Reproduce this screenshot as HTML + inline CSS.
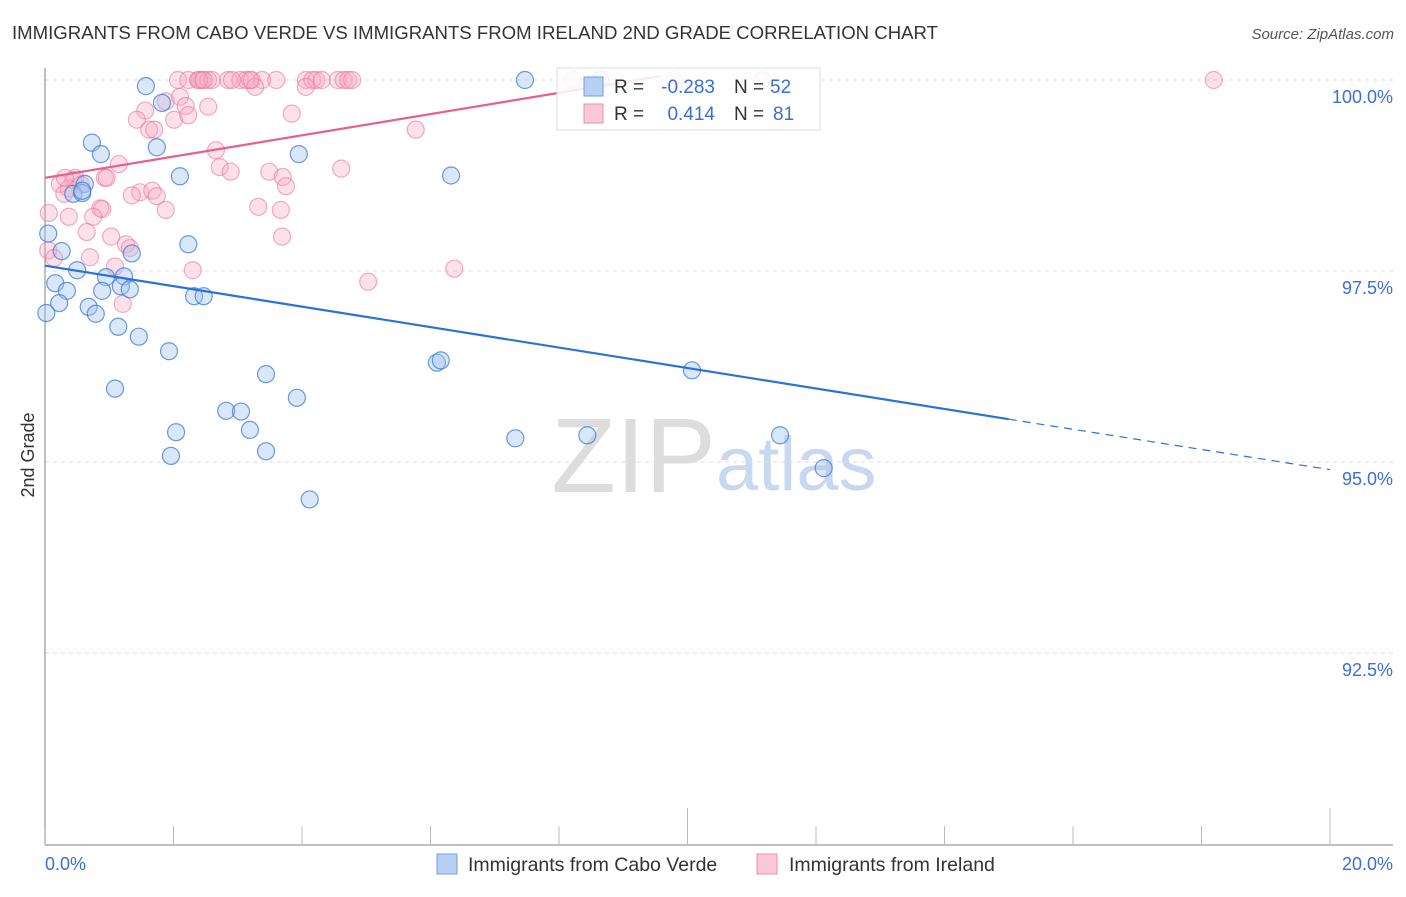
<!DOCTYPE html>
<html><head><meta charset="utf-8"><style>
body{margin:0;background:#fff;font-family:"Liberation Sans",sans-serif}
svg text{font-family:"Liberation Sans",sans-serif}
</style></head><body>
<svg width="1406" height="892" xmlns="http://www.w3.org/2000/svg">
<text x="12" y="39" font-size="18.6" fill="#333">IMMIGRANTS FROM CABO VERDE VS IMMIGRANTS FROM IRELAND 2ND GRADE CORRELATION CHART</text>
<text x="1394" y="39" font-size="15" fill="#555" text-anchor="end" font-style="italic">Source: ZipAtlas.com</text>
<text x="716" y="492" font-size="106" fill="#ddd" text-anchor="end" font-family="Liberation Serif">ZIP</text>
<text x="716" y="490" font-size="76" fill="#c8d8f0">atlas</text>
<g id="grid"></g>
<g id="axes"></g>
<g id="pts"></g>
<g id="lines"></g>
<text x="34" y="455" font-size="18" fill="#333" text-anchor="middle" transform="rotate(-90 34 455)">2nd Grade</text>
<g>
<rect x="557" y="68" width="263" height="62" fill="rgba(255,255,255,0.85)" stroke="#ddd"/>
<rect x="584" y="77" width="19" height="19" fill="#b8d0f4" stroke="#6f9de0"/>
<rect x="584" y="104" width="19" height="19" fill="#fbc8d8" stroke="#e88fab"/>
<text x="614" y="93" font-size="19" fill="#333">R = </text><text x="715" y="93" font-size="19" fill="#3a6fd8" text-anchor="end">-0.283</text>
<text x="734" y="93" font-size="19" fill="#333">N = </text><text x="770" y="93" font-size="19" fill="#3a6fd8">52</text>
<text x="614" y="120" font-size="19" fill="#333">R = </text><text x="715" y="120" font-size="19" fill="#3a6fd8" text-anchor="end">0.414</text>
<text x="734" y="120" font-size="19" fill="#333">N = </text><text x="773" y="120" font-size="19" fill="#3a6fd8">81</text>
</g>
<g>
<rect x="437" y="854" width="20" height="20" fill="#b8d0f4" stroke="#6f9de0"/>
<text x="468" y="871" font-size="19.5" fill="#333">Immigrants from Cabo Verde</text>
<rect x="757" y="854" width="20" height="20" fill="#fbc8d8" stroke="#e88fab"/>
<text x="789" y="871" font-size="19.5" fill="#333">Immigrants from Ireland</text>
</g>
</svg>
<script>
const blueX=[1.57,7.47,8.64,0.73,1.74,0.87,1.82,2.1,3.95,6.32,0.62,0.44,0.58,0.05,0.26,1.35,2.23,0.5,0.95,1.23,0.16,0.34,0.89,1.18,1.32,0.22,0.68,0.79,0.02,2.32,2.47,1.14,1.46,1.93,6.1,6.16,10.07,1.09,3.44,3.92,2.82,3.05,2.04,3.19,7.32,8.44,11.44,1.96,3.44,12.12,4.12,0.58];
const blueY=[99.92,100,100,99.18,99.12,99.03,99.7,98.74,99.03,98.75,98.64,98.51,98.52,97.99,97.76,97.73,97.85,97.51,97.42,97.43,97.34,97.24,97.24,97.3,97.26,97.08,97.03,96.94,96.95,97.17,97.17,96.77,96.64,96.45,96.3,96.33,96.2,95.96,96.15,95.84,95.67,95.66,95.39,95.42,95.31,95.35,95.35,95.08,95.14,94.92,94.51,98.55];
const pinkX=[2.07,2.23,2.38,2.44,2.54,2.6,2.85,3.04,3.13,3.22,3.38,3.6,4.06,4.16,4.22,4.31,4.56,4.65,4.72,4.78,9.79,11.16,18.19,8.22,2.4,2.47,2.91,3.27,3.19,4.06,1.88,2.1,1.56,2.19,2.01,2.23,2.54,1.43,1.62,1.7,3.84,5.77,2.66,1.15,2.72,2.89,3.49,4.61,0.06,0.37,0.05,0.14,0.23,0.47,0.44,0.56,0.93,0.96,0.3,0.37,0.86,0.89,1.48,1.67,1.74,1.35,1.88,3.7,3.75,3.32,3.67,0.75,0.65,1.03,1.26,1.32,0.7,1.09,2.3,3.69,6.37,5.03,1.21,0.31];
const pinkY=[100,100,100,100,100,100,100,100,100,100,100,100,100,100,100,100,100,100,100,100,100,100,100,100,100,100,100,99.91,100,99.91,99.72,99.78,99.6,99.66,99.48,99.54,99.65,99.48,99.35,99.35,99.56,99.35,99.08,98.9,98.86,98.8,98.8,98.84,98.26,98.21,97.77,97.67,98.64,98.72,98.69,98.63,98.72,98.72,98.51,98.58,98.32,98.31,98.53,98.55,98.48,98.49,98.3,98.73,98.61,98.34,98.3,98.21,98.01,97.95,97.85,97.8,97.68,97.56,97.51,97.95,97.53,97.36,97.07,98.72];
const yTicks=[100,97.5,95,92.5];
const yTickLabels=["100.0%","97.5%","95.0%","92.5%"];
const xTicks=[0,2,4,6,8,10,12,14,16,18,20];
const blueTrend=[[0,97.57],[15,95.56],[20,94.9]];
const pinkTrend=[[0,98.72],[9.57,100.05]];
const NS="http://www.w3.org/2000/svg";
const X=v=>45+v*64.25, Y=v=>80+(100-v)*76.4;
function mk(t,a,p){const e=document.createElementNS(NS,t);for(const k in a)e.setAttribute(k,a[k]);document.getElementById(p).appendChild(e);return e;}
yTicks.forEach((t,i)=>{
 const l=mk('line',{x1:45,x2:1393,y1:Y(t),y2:Y(t),stroke:'#ddd','stroke-dasharray':'4,4'},'grid');
 
 
 const tx=mk('text',{x:1393,y:Y(t)+23,'font-size':18,fill:'#3a6fd8','text-anchor':'end'},'grid');
 tx.textContent=yTickLabels[i];
 
 
});
let ax=mk('line',{x1:45,x2:1393,y1:845,y2:845,stroke:'#aaa','stroke-width':1.5},'axes');


let ay=mk('line',{x1:45,x2:45,y1:68,y2:845,stroke:'#aaa','stroke-width':1.5},'axes');


xTicks.forEach(t=>{
 const long=(t===10||t===20);
 const l=mk('line',{x1:X(t),x2:X(t),y1:long?808:826,y2:845,stroke:'#bbb'},'axes');
 
 
});
let x0=mk('text',{x:45,y:870,'font-size':18,fill:'#3a6fd8'},'axes');x0.textContent='0.0%';


let x1=mk('text',{x:1393,y:870,'font-size':18,fill:'#3a6fd8','text-anchor':'end'},'axes');x1.textContent='20.0%';


pinkX.forEach((v,i)=>{
 const c=mk('circle',{cx:X(v),cy:Y(pinkY[i]),r:8.5,fill:'rgba(248,170,195,0.35)',stroke:'rgba(232,120,155,0.6)','stroke-width':1.2},'pts');
 
 
});
blueX.forEach((v,i)=>{
 const c=mk('circle',{cx:X(v),cy:Y(blueY[i]),r:8.5,fill:'rgba(160,195,240,0.4)',stroke:'rgba(60,120,215,0.75)','stroke-width':1.2},'pts');
 
 
});
let b1=mk('line',{x1:X(blueTrend[0][0]),y1:Y(blueTrend[0][1]),x2:X(blueTrend[1][0]),y2:Y(blueTrend[1][1]),stroke:'#2a72d8','stroke-width':2.2},'lines');


let b2=mk('line',{x1:X(blueTrend[1][0]),y1:Y(blueTrend[1][1]),x2:X(blueTrend[2][0]),y2:Y(blueTrend[2][1]),stroke:'#2a72d8','stroke-width':1.2,'stroke-dasharray':'8,6'},'lines');


let p1=mk('line',{x1:X(pinkTrend[0][0]),y1:Y(pinkTrend[0][1]),x2:X(pinkTrend[1][0]),y2:Y(pinkTrend[1][1]),stroke:'#e8608a','stroke-width':2.2},'lines');


</script>
</body></html>
